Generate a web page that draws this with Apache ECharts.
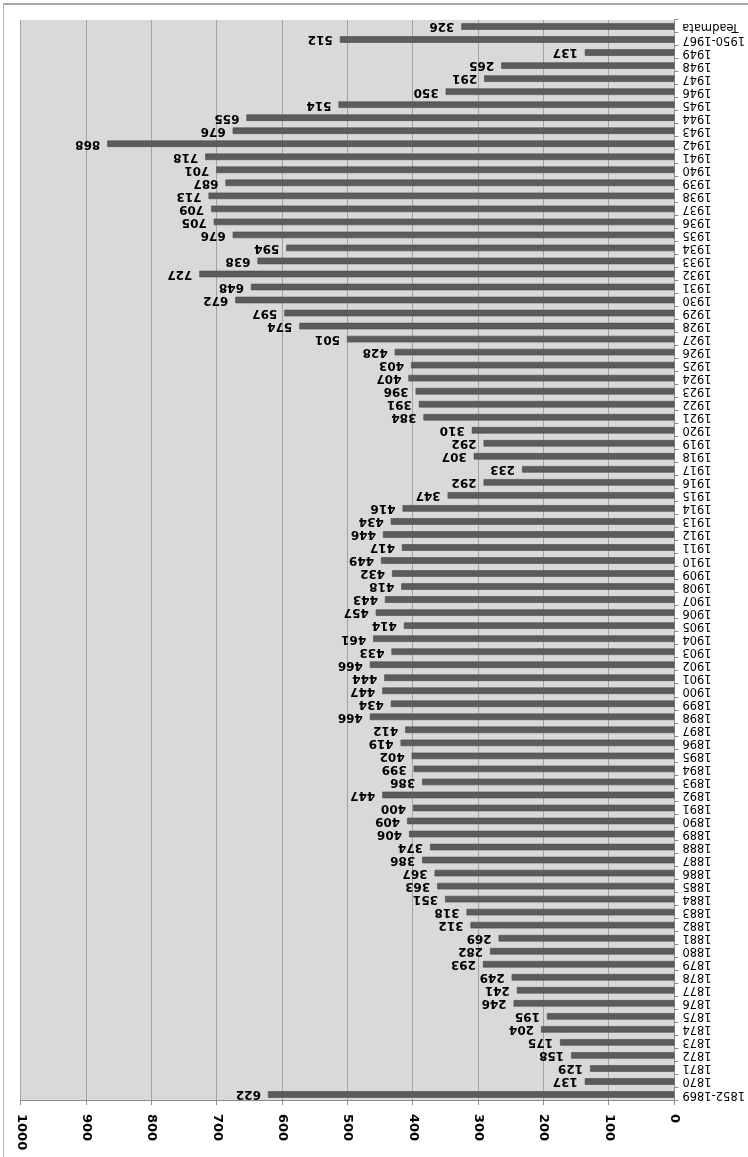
<!DOCTYPE html>
<html>
<head>
<meta charset="utf-8">
<script src="https://cdn.jsdelivr.net/npm/echarts@6/dist/echarts.min.js"></script>
<style>
  html, body { margin: 0; padding: 0; background: #fff; overflow: hidden; }
  #chart { position: absolute; left: 0; top: 0; width: 748px; height: 1157px; transform: rotate(180deg); transform-origin: 50% 50%; }
  #frame { position: absolute; left: 3px; top: 3px; width: 760px; height: 1170px; border-left: 1px solid #b4b4b4; border-top: 2px solid #a8a8a8; pointer-events: none; }
</style>
</head>
<body>
<div id="chart"></div>
<div id="frame"></div>
<script>
const categories = ['1852-1869','1870','1871','1872','1873','1874','1875','1876','1877','1878','1879',
  '1880','1881','1882','1883','1884','1885','1886','1887','1888','1889',
  '1890','1891','1892','1893','1894','1895','1896','1897','1898','1899',
  '1900','1901','1902','1903','1904','1905','1906','1907','1908','1909',
  '1910','1911','1912','1913','1914','1915','1916','1917','1918','1919',
  '1920','1921','1922','1923','1924','1925','1926','1927','1928','1929',
  '1930','1931','1932','1933','1934','1935','1936','1937','1938','1939',
  '1940','1941','1942','1943','1944','1945','1946','1947','1948','1949',
  '1950-1967','Teadmata'];
const values = [622,137,129,158,175,204,195,246,241,249,293,
  282,269,312,318,351,363,367,386,374,406,
  409,400,447,386,399,402,419,412,466,434,
  447,444,466,433,461,414,457,443,418,432,
  449,417,446,434,416,347,292,233,307,292,
  310,384,391,396,407,403,428,501,574,597,
  672,648,727,638,594,676,705,709,713,687,
  701,718,868,676,655,514,350,291,265,137,
  512,326];
const valueTicks = [0,100,200,300,400,500,600,700,800,900,1000];

const chart = echarts.init(document.getElementById('chart'), null, { renderer: 'canvas' });
chart.setOption({
  animation: false,
  backgroundColor: '#ffffff',
  grid: { left: 71, right: 21, top: 56, bottom: 20, show: true, backgroundColor: '#d9d9d9', borderWidth: 0 },
  xAxis: {
    type: 'value', position: 'top', min: valueTicks[0], max: valueTicks[valueTicks.length - 1], interval: 100,
    axisLine: { show: true, lineStyle: { color: '#8c8c8c', width: 1 } },
    axisTick: { show: true, inside: false, length: 4, lineStyle: { color: '#8c8c8c' } },
    splitLine: { show: true, lineStyle: { color: '#a3a3a3', width: 1 } },
    axisLabel: { rotate: -90, margin: 13, formatter: v => String(v), fontFamily: 'DejaVu Sans', fontWeight: 'bold', fontSize: 13, color: '#000' }
  },
  yAxis: {
    type: 'category', data: categories, inverse: true,
    axisLine: { show: true, lineStyle: { color: '#8c8c8c', width: 1 } },
    axisTick: { show: true, inside: false, length: 4, alignWithLabel: false, lineStyle: { color: '#8c8c8c' } },
    axisLabel: { interval: 0, margin: 8, fontFamily: 'DejaVu Sans', fontSize: 11.5, color: '#000' }
  },
  series: [{
    type: 'bar', data: values, barWidth: 6.5,
    itemStyle: { color: '#5c5c5c', borderColor: '#4a4a4a', borderWidth: 0.6 },
    label: { show: true, position: 'right', distance: 7, fontFamily: 'DejaVu Sans', fontWeight: 'bold', fontSize: 12, color: '#000' }
  }]
});
</script>
</body>
</html>
